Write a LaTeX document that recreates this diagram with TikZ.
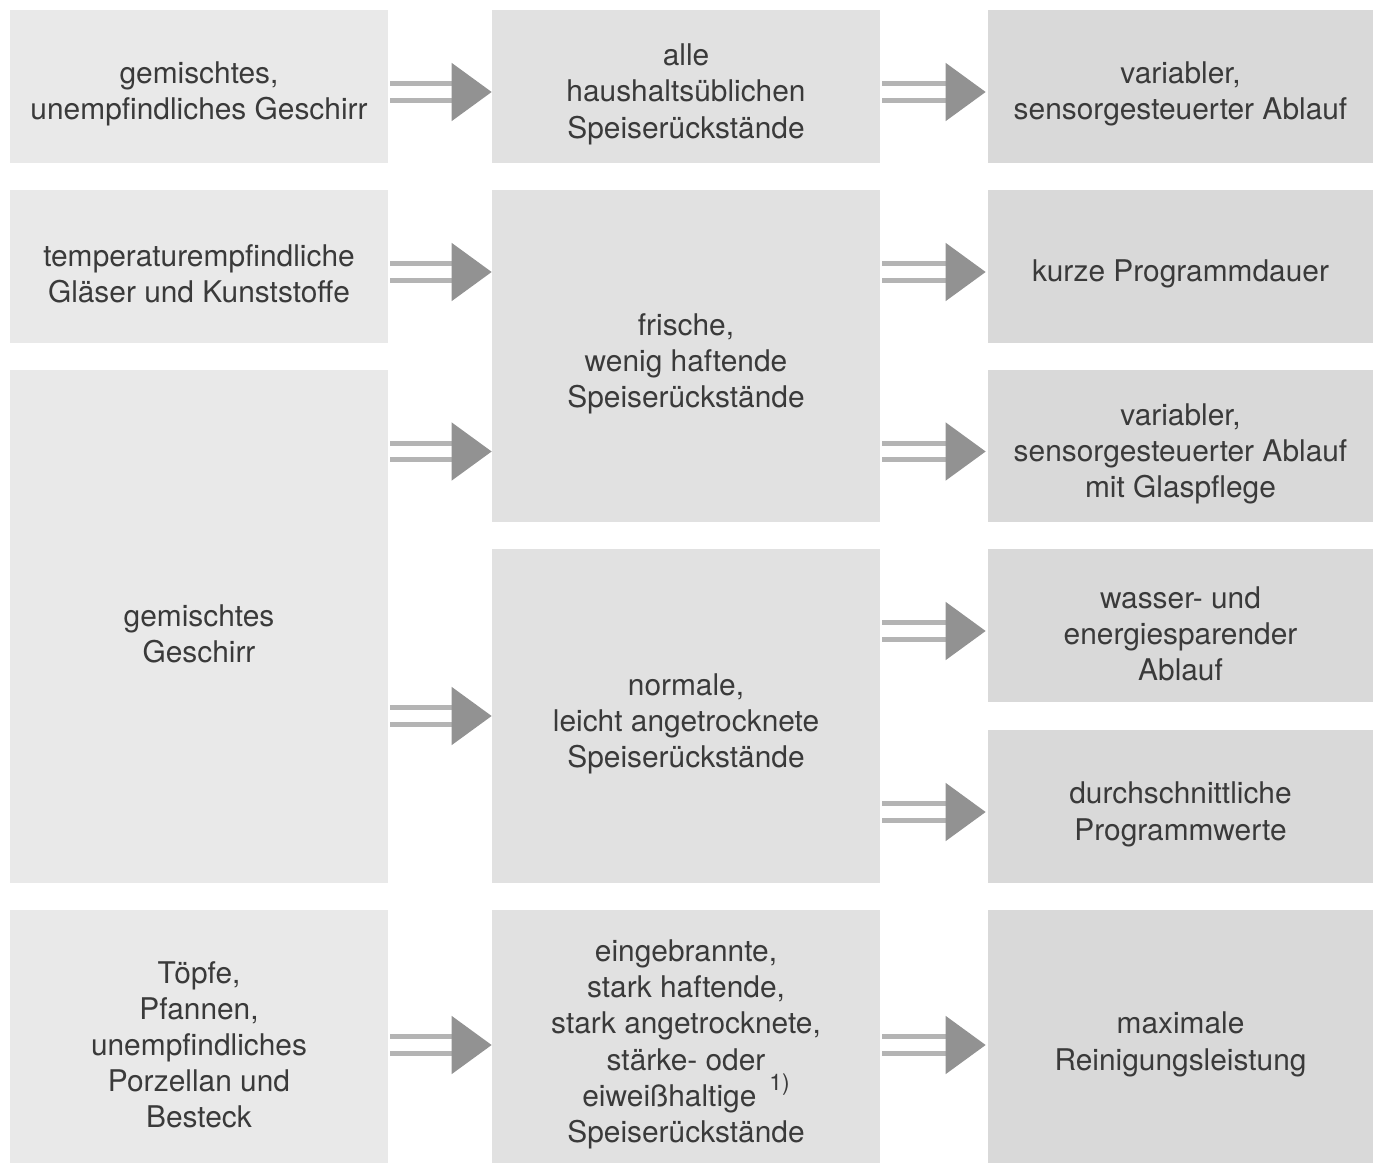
\documentclass[tikz,border=0pt]{standalone}
\usepackage{fontspec}
\setmainfont{TeX Gyre Heros}
\usetikzlibrary{arrows.meta}

\definecolor{boxA}{HTML}{E9E9E9}
\definecolor{boxB}{HTML}{E1E1E1}
\definecolor{boxC}{HTML}{D9D9D9}
\definecolor{txt}{HTML}{3A3A3A}
\definecolor{shaft}{HTML}{B4B4B4}
\definecolor{head}{HTML}{929292}

% pushes the text of a box a little down
\newcommand{\firstline}{\rule{0pt}{0.75cm}}

\begin{document}
\begin{tikzpicture}[x=0.02cm, y=-0.02cm,
  box/.style={inner sep=0pt, align=center, text=txt,
    font=\fontsize{17}{20.5}\selectfont},
  leftbox/.style={box, fill=boxA, minimum width=7.56cm},
  midbox/.style={box, fill=boxB, minimum width=7.76cm},
  rightbox/.style={box, fill=boxC, minimum width=7.7cm},
  dblarrow/.style={draw=shaft, line width=0.1cm, double=white, double distance=0.24cm,
    -{Triangle[length=0.8cm, width=1.14cm, color=head]}}]
  \useasboundingbox (0,0) rectangle (1381,1165);
  % left column
  \node[leftbox, minimum height=3.06cm] (l1) at (199,86.5) {\firstline gemischtes,\\unempfindliches Geschirr};
  \node[leftbox, minimum height=3.06cm] (l2) at (199,266.5) {\firstline temperaturempfindliche\\Gläser und Kunststoffe};
  \node[leftbox, minimum height=10.26cm] (l3) at (199,626.5) {\firstline gemischtes\\Geschirr};
  \node[leftbox, minimum height=5.06cm] (l4) at (199,1036.5) {\firstline Töpfe,\\Pfannen,\\unempfindliches\\Porzellan und\\Besteck};
  % middle column
  \node[midbox, minimum height=3.06cm] (m1) at (686,86.5) {\firstline alle\\haushaltsüblichen\\Speiserückstände};
  \node[midbox, minimum height=6.64cm] (m2) at (686,356) {\firstline frische,\\wenig haftende\\Speiserückstände};
  \node[midbox, minimum height=6.68cm] (m3) at (686,716) {\firstline normale,\\leicht angetrocknete\\Speiserückstände};
  \node[midbox, minimum height=5.06cm] (m4) at (686,1036.5) {\firstline eingebrannte,\\stark haftende,\\stark angetrocknete,\\stärke- oder\\eiweißhaltige\hspace{0.26cm}\smash{\raisebox{0.32cm}{\fontsize{13}{15}\selectfont 1)}}\\Speiserückstände};
  % right column
  \node[rightbox, minimum height=3.06cm] (r1) at (1180.5,86.5) {\firstline variabler,\\sensorgesteuerter Ablauf};
  \node[rightbox, minimum height=3.06cm] (r2) at (1180.5,266.5) {\firstline kurze Programmdauer};
  \node[rightbox, minimum height=3.04cm] (r3) at (1180.5,446) {\firstline variabler,\\sensorgesteuerter Ablauf\\mit Glaspflege};
  \node[rightbox, minimum height=3.06cm] (r4) at (1180.5,625.5) {\firstline wasser- und\\energiesparender\\Ablauf};
  \node[rightbox, minimum height=3.06cm] (r5) at (1180.5,806.5) {\firstline durchschnittliche\\Programmwerte};
  \node[rightbox, minimum height=5.06cm] (r6) at (1180.5,1036.5) {\firstline maximale\\Reinigungsleistung};
  % arrows left -> middle
  \draw[dblarrow] ([xshift=0.04cm, yshift=-0.11cm]l1.east) -- ([yshift=-0.11cm]m1.west);
  \draw[dblarrow] ([xshift=0.04cm, yshift=-0.11cm]l2.east) -- ([yshift=-0.11cm]l2.east -| m2.west);
  \draw[dblarrow] ([xshift=0.04cm, yshift=-0.11cm]l3.east |- r3.west) -- ([yshift=-0.11cm]m2.west |- r3.west);
  \draw[dblarrow] ([xshift=0.04cm]l3.east |- m3.west) -- (m3.west);
  \draw[dblarrow] ([xshift=0.04cm, yshift=-0.17cm]l4.east) -- ([yshift=-0.17cm]m4.west);
  % arrows middle -> right
  \draw[dblarrow] ([xshift=0.04cm, yshift=-0.11cm]m1.east) -- ([xshift=-0.04cm, yshift=-0.11cm]r1.west);
  \draw[dblarrow] ([xshift=0.04cm, yshift=-0.11cm]m2.east |- r2.west) -- ([xshift=-0.04cm, yshift=-0.11cm]r2.west);
  \draw[dblarrow] ([xshift=0.04cm, yshift=-0.11cm]m2.east |- r3.west) -- ([xshift=-0.04cm, yshift=-0.11cm]r3.west);
  \draw[dblarrow] ([xshift=0.04cm, yshift=-0.11cm]m3.east |- r4.west) -- ([xshift=-0.04cm, yshift=-0.11cm]r4.west);
  \draw[dblarrow] ([xshift=0.04cm, yshift=-0.11cm]m3.east |- r5.west) -- ([xshift=-0.04cm, yshift=-0.11cm]r5.west);
  \draw[dblarrow] ([xshift=0.04cm, yshift=-0.17cm]m4.east) -- ([xshift=-0.04cm, yshift=-0.17cm]r6.west);
\end{tikzpicture}
\end{document}
